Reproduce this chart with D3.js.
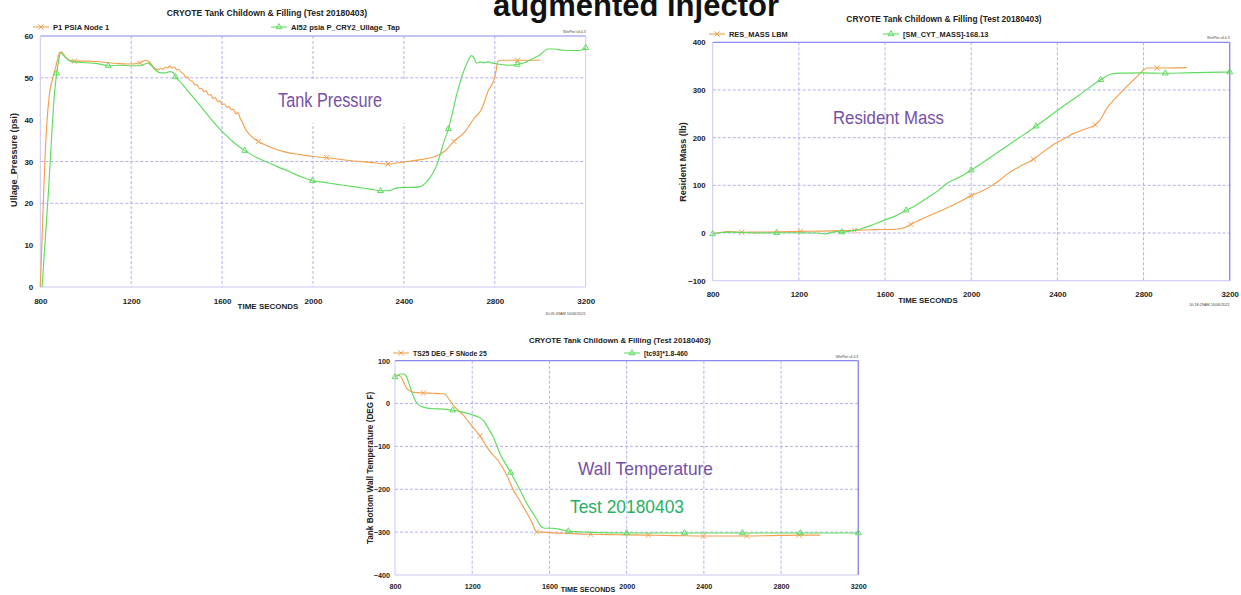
<!DOCTYPE html>
<html>
<head>
<meta charset="utf-8">
<script src="https://cdn.jsdelivr.net/npm/d3@7"></script>
<style>
  html, body { margin: 0; padding: 0; background: #fff; }
  svg { display: block; }
  text { font-family: "Liberation Sans", Arial, sans-serif; }
</style>
</head>
<body>
<svg id="chart" width="1241" height="595"></svg>
<script>
// ---------------- DATA ----------------
const timeTicks = [800, 1200, 1600, 2000, 2400, 2800, 3200];
const chartTitle = "CRYOTE Tank Childown & Filling (Test 20180403)";

// Chart 1 : Tank pressure
const pressureTicks = [0, 10, 20, 30, 40, 50, 60];
const pressureGrid = [20, 30, 50];
const p1PsiaNode1 = [
  [800,0],[810,15],[820,30],[830,40],[840,46],[855,50],[870,53],[885,56],[892,56.2],[910,55],[930,54.2],
  [950,54],[1000,54],[1050,53.9],[1100,53.6],[1150,53.4],[1200,53.3],[1230,53.5],[1250,53.9],[1265,54.2],
  [1280,53.8],[1300,52.5],[1310,52.1],[1320,51.9],[1330,52.3],[1340,52.0],[1350,52.6],[1360,52.3],[1370,52.8],
  [1380,52.3],[1390,52.6],[1400,51.9],[1410,52.0],[1420,51.3],[1430,51.0],[1440,50.1],[1450,50.2],[1460,49.3],
  [1470,49.2],[1480,48.3],[1490,48.4],[1500,47.4],[1510,47.5],[1520,46.7],[1530,46.9],[1540,45.9],[1550,46.0],
  [1560,45.1],[1570,45.3],[1580,44.3],[1590,44.5],[1600,43.6],[1610,43.8],[1620,43.0],[1630,43.1],[1640,42.4],
  [1650,42.5],[1660,41.4],[1670,41.7],[1680,40.3],[1690,39.3],[1700,38.0],[1720,36.5],[1740,35.5],[1760,34.8],
  [1800,33.7],[1850,32.7],[1900,32.0],[1950,31.6],[2000,31.2],[2060,30.9],[2150,30.3],[2250,29.8],[2330,29.4],
  [2400,29.9],[2480,30.5],[2550,31.5],[2580,32.5],[2620,34.8],[2670,37.2],[2710,40.4],[2740,42.3],[2772,47],
  [2796,49.5],[2805,51.5],[2813,53.9],[2830,54.2],[2900,54.2],[3000,54.2]
];
const p1PsiaMarkers = [[950,54],[1240,53.5],[1760,34.8],[2060,30.9],[2330,29.4],[2620,34.8],[2900,54.2]];
const ai52Ullage = [
  [808,0],[820,10],[835,22],[850,36],[862,46],[872,51.1],[882,54.5],[890,56],[905,55.2],[925,54.2],[945,53.8],
  [1000,53.6],[1050,53.4],[1099,52.9],[1150,53],[1200,52.9],[1240,52.9],[1260,53.3],[1275,53.5],[1290,52.8],
  [1310,51.7],[1330,51.2],[1350,51.2],[1370,51.5],[1385,51.2],[1395,50.2],[1420,48.8],[1450,46.8],[1500,43.6],
  [1550,40.2],[1600,37.2],[1650,34.6],[1700,32.6],[1750,31],[1800,29.8],[1850,28.6],[1900,27.5],[1950,26.3],
  [1998,25.4],[2050,25],[2100,24.6],[2150,24.2],[2200,23.8],[2250,23.4],[2297,23.0],[2330,23.0],[2350,23.3],
  [2370,23.7],[2400,23.8],[2440,23.8],[2469,24.0],[2490,24.6],[2510,25.8],[2527,27.2],[2545,29.2],[2557,31.2],
  [2575,34.5],[2596,37.8],[2615,42],[2630,45.5],[2645,48.5],[2660,51.1],[2680,53.8],[2697,55.3],[2710,54.6],
  [2719,53.5],[2735,53.8],[2750,53.6],[2770,53.8],[2800,53.4],[2830,53.2],[2860,53.0],[2899,53.2],[2930,53.6],
  [2960,54.4],[3000,55.5],[3033,56.9],[3060,56.9],[3100,56.6],[3150,56.5],[3180,56.6],[3200,57.2]
];
const ai52Markers = [[872,51.1],[1099,52.9],[1395,50.2],[1700,32.6],[1998,25.4],[2297,23.0],[2596,37.8],[2899,53.2],[3200,57.2]];

// Chart 2 : Resident mass
const massTicks = [-100, 0, 100, 200, 300, 400];
const massGrid = [0, 100, 200, 300];
const resMassLbm = [
  [800,-1],[830,1],[870,3],[900,2.5],[935,1.5],[1000,2],[1100,2.5],[1207,3.5],[1300,4],[1400,5],[1458,5.7],
  [1550,7],[1639,7.8],[1670,9],[1700,13],[1720,18.3],[1760,27],[1800,35],[1850,45],[1900,55],[1949,66],
  [2000,78.4],[2050,88],[2088,97.3],[2130,110],[2165,123],[2220,138],[2289,154.8],[2340,172],[2392,188.4],
  [2440,200],[2477,209],[2530,218],[2575,226.9],[2600,238],[2630,262],[2660,278],[2692,293.5],[2738,314.5],
  [2770,328],[2793,338.9],[2816,346],[2863,346],[2950,346.5],[3000,347]
];
const resMassMarkers = [[935,1.5],[1207,3.5],[1458,5.7],[1720,18.3],[2000,78.4],[2289,154.8],[2575,226.9],[2863,346]];
const smCytMass = [
  [800,-2],[840,1],[880,2],[950,1],[1000,0],[1097,0.6],[1200,0.5],[1280,0],[1320,-2],[1350,1],[1370,3],[1399,2],
  [1450,5],[1490,9],[1530,15],[1597,27],[1650,36],[1698,47.7],[1750,60],[1800,75],[1850,90],[1887,104],[1949,118],
  [2000,131.7],[2100,162],[2200,193],[2301,224],[2400,257],[2500,289],[2601,321.4],[2646,333],[2700,335.5],
  [2800,336],[2901,335],[3000,336],[3100,337],[3200,337.6]
];
const smCytMarkers = [[800,-2],[1097,0.6],[1399,2],[1698,47.7],[2000,131.7],[2301,224],[2601,321.4],[2901,335],[3200,337.6]];

// Chart 3 : Wall temperature
const tempTicks = [-400, -300, -200, -100, 0, 100];
const tempGrid = [-300, -200, -100, 0];
const ts25DegF = [
  [800,62],[815,66],[830,63],[845,50],[860,36],[880,29],[900,26],[947,24.7],[1000,24],[1040,23],[1059,21.7],
  [1080,10],[1102,-4],[1130,-17],[1154,-27],[1180,-42],[1200,-53],[1220,-64],[1240,-75.5],[1260,-90],[1275,-101],
  [1309,-120],[1340,-137],[1379,-167],[1413,-202],[1440,-222],[1465,-241],[1494,-264],[1515,-283],[1526,-295],
  [1534,-299],[1600,-301],[1700,-303],[1814,-305],[1950,-306],[2112,-307],[2250,-308],[2397,-309],[2500,-309],
  [2622,-309],[2750,-308],[2893,-307],[3002,-307]
];
const ts25Markers = [[947,24.7],[1240,-75.5],[1534,-299],[1814,-305],[2112,-307],[2397,-309],[2622,-309],[2893,-307]];
const tc93DegF = [
  [800,62],[815,66],[830,69],[845,69],[858,64],[870,50],[885,30],[900,12],[920,-2],[950,-9],[1000,-12],[1050,-13],
  [1099,-15.6],[1150,-20],[1200,-26],[1230,-31],[1258,-39],[1280,-55],[1309,-78],[1344,-117],[1399,-161],
  [1439,-194],[1483,-233],[1526,-264],[1560,-288],[1580,-291],[1620,-291],[1660,-294],[1698,-297.7],[1800,-300],
  [2000,-302],[2300,-302],[2600,-302],[2900,-302],[3200,-302]
];
const tc93Markers = [[800,62],[1099,-15.6],[1399,-161],[1698,-297.7],[2000,-302],[2300,-302],[2600,-302],[2900,-302],[3200,-302]];

// ---------------- STYLE / LAYOUT ----------------
const ORANGE = "#f2a04e", GREEN = "#5fdc5f";
const GRID = "#aaa7ee", FRAME = "#8c88ee", FRAME_LIGHT = "#c9c7f2";
const PURPLE = "#7650a6", TEXTGREEN = "#27b062";

const svg = d3.select("#chart");

svg.append("text").attr("x", 636).attr("y", 16).attr("text-anchor", "middle")
  .attr("font-size", 31).attr("font-weight", "bold").attr("fill", "#111").text("augmented injector");

function drawChart(cfg) {
  const g = svg.append("g");
  const x = d3.scaleLinear().domain([800, 3200]).range([cfg.x0, cfg.x1]);
  const y = d3.scaleLinear().domain(cfg.yDomain).range([cfg.yBot, cfg.yTop]);

  // grid
  g.selectAll(".vg").data(timeTicks.slice(1, -1)).join("line")
    .attr("x1", d => x(d)).attr("x2", d => x(d)).attr("y1", cfg.yTop).attr("y2", cfg.yBot)
    .attr("stroke", GRID).attr("stroke-width", 0.9).attr("stroke-dasharray", "3,2");
  g.selectAll(".hg").data(cfg.grid).join("line")
    .attr("x1", cfg.x0).attr("x2", cfg.x1).attr("y1", d => y(d)).attr("y2", d => y(d))
    .attr("stroke", GRID).attr("stroke-width", 0.9).attr("stroke-dasharray", "3,2");

  // frame
  g.append("line").attr("x1", cfg.x0).attr("x2", cfg.x1).attr("y1", cfg.yTop).attr("y2", cfg.yTop)
    .attr("stroke", FRAME).attr("stroke-width", 1.2);
  g.append("line").attr("x1", cfg.x1).attr("x2", cfg.x1).attr("y1", cfg.yTop).attr("y2", cfg.yBot)
    .attr("stroke", cfg.rightStrong ? FRAME : FRAME_LIGHT).attr("stroke-width", cfg.rightStrong ? 1.4 : 1);
  g.append("line").attr("x1", cfg.x0).attr("x2", cfg.x0).attr("y1", cfg.yTop).attr("y2", cfg.yBot)
    .attr("stroke", FRAME_LIGHT).attr("stroke-width", 1);
  g.append("line").attr("x1", cfg.x0).attr("x2", cfg.x1).attr("y1", cfg.yBot).attr("y2", cfg.yBot)
    .attr("stroke", FRAME_LIGHT).attr("stroke-width", 1);

  // annotation boxes (white, behind lines)
  (cfg.boxes || []).forEach(b => {
    g.append("rect").attr("x", b.x).attr("y", b.y).attr("width", b.w).attr("height", b.h).attr("fill", "#fff");
  });

  // axes
  const xAxis = d3.axisBottom(x).tickValues(timeTicks).tickSize(0).tickPadding(0).tickFormat(d3.format("d"));
  const xa = g.append("g").attr("transform", `translate(0,${cfg.yBot + cfg.xLabelGap})`).call(xAxis);
  const yAxis = d3.axisLeft(y).tickValues(cfg.yTicks).tickSize(0).tickPadding(cfg.yLabelGap).tickFormat(d3.format("d"));
  const ya = g.append("g").attr("transform", `translate(${cfg.x0},0)`).call(yAxis);
  [xa, ya].forEach(a => {
    a.select(".domain").remove();
    a.selectAll("text").attr("font-size", cfg.tickFont).attr("font-weight", "bold").attr("fill", "#222")
      .attr("font-family", "'Liberation Sans', Arial, sans-serif");
  });

  // series lines
  const line = d3.line().x(d => x(d[0])).y(d => y(d[1])).curve(d3.curveMonotoneX);
  cfg.series.forEach(s => {
    g.append("path").datum(s.data).attr("d", line).attr("fill", "none")
      .attr("stroke", s.color).attr("stroke-width", 1.15);
    drawMarkers(g, s.markers.map(d => [x(d[0]), y(d[1])]), s.kind, s.color);
  });

  // titles
  g.append("text").attr("x", cfg.titleX).attr("y", cfg.titleY).attr("text-anchor", "middle")
    .attr("font-size", cfg.titleFont).attr("font-weight", "bold").attr("fill", "#222").text(chartTitle);
  g.append("text").attr("x", cfg.xTitleX).attr("y", cfg.xTitleY).attr("text-anchor", "middle")
    .attr("font-size", cfg.tickFont).attr("font-weight", "bold").attr("fill", "#222").text("TIME  SECONDS");
  g.append("text").attr("transform", `translate(${cfg.yTitleX},${cfg.yTitleY}) rotate(-90)`)
    .attr("text-anchor", "middle").attr("font-size", cfg.yTitleFont).attr("font-weight", "bold")
    .attr("fill", "#222").text(cfg.yTitle);

  // legend
  cfg.series.forEach(s => {
    const ly = cfg.legendY;
    g.append("line").attr("x1", s.legendX).attr("x2", s.legendX + 16).attr("y1", ly).attr("y2", ly)
      .attr("stroke", s.color).attr("stroke-width", 1.1);
    drawMarkers(g, [[s.legendX + 8, ly]], s.kind, s.color);
    g.append("text").attr("x", s.legendX + 20).attr("y", ly + 3).attr("font-size", cfg.legendFont)
      .attr("font-weight", "bold").attr("fill", "#222").text(s.name);
  });

  // tiny stamps
  g.append("text").attr("x", cfg.x1).attr("y", cfg.yTop - 3).attr("text-anchor", "end")
    .attr("font-size", 3.5).attr("fill", "#444").text("WinPlot v4.0.3");
  if (cfg.stamp) {
    g.append("text").attr("x", cfg.x1).attr("y", cfg.stampY).attr("text-anchor", "end")
      .attr("font-size", 3.8).attr("fill", "#444").text(cfg.stamp);
  }

  // annotations
  (cfg.notes || []).forEach(n => {
    g.append("text").attr("x", n.x).attr("y", n.y).attr("font-size", n.size)
      .attr("font-family", "Lato, 'Open Sans', sans-serif").attr("fill", n.color)
      .attr("textLength", n.w).attr("lengthAdjust", "spacingAndGlyphs").text(n.text);
  });
}

function drawMarkers(g, pts, kind, color) {
  pts.forEach(([px, py]) => {
    if (kind === "x") {
      const r = 2.6;
      g.append("path").attr("d", `M${px - r},${py - r}L${px + r},${py + r}M${px - r},${py + r}L${px + r},${py - r}`)
        .attr("stroke", color).attr("stroke-width", 1).attr("fill", "none");
    } else {
      g.append("path").attr("d", d3.symbol(d3.symbolTriangle, 15)())
        .attr("transform", `translate(${px},${py})`)
        .attr("stroke", color).attr("stroke-width", 1).attr("fill", "none");
    }
  });
}

drawChart({
  x0: 40.3, x1: 585.7, yTop: 36, yBot: 287, yDomain: [0, 60], yTicks: pressureTicks, grid: pressureGrid,
  xLabelGap: 11, yLabelGap: 7, tickFont: 8, titleFont: 8.6, titleX: 267, titleY: 16,
  xTitleX: 268, xTitleY: 309, yTitle: "Ullage_Pressure (psi)", yTitleX: 17, yTitleY: 160, yTitleFont: 9.2,
  legendY: 27, legendFont: 7.6, rightStrong: false,
  stamp: "10:05:33AM 10/06/2021", stampY: 315,
  boxes: [{x: 272, y: 80, w: 148, h: 43}],
  notes: [{text: "Tank Pressure", x: 278, y: 107, size: 20, w: 104, color: PURPLE}],
  series: [
    {name: "P1  PSIA  Node 1", data: p1PsiaNode1, markers: p1PsiaMarkers, color: ORANGE, kind: "x", legendX: 33},
    {name: "AI52  psia  P_CRY2_Ullage_Tap", data: ai52Ullage, markers: ai52Markers, color: GREEN, kind: "tri", legendX: 271}
  ]
});

drawChart({
  x0: 712.7, x1: 1229.7, yTop: 42.3, yBot: 280.7, yDomain: [-100, 400], yTicks: massTicks, grid: massGrid,
  xLabelGap: 11, yLabelGap: 7, tickFont: 7.8, titleFont: 8.4, titleX: 944, titleY: 22,
  xTitleX: 928, xTitleY: 303, yTitle: "Resident Mass (lb)", yTitleX: 686, yTitleY: 162, yTitleFont: 9,
  legendY: 34, legendFont: 7.4, rightStrong: true,
  stamp: "10:18:29AM 10/06/2021", stampY: 306,
  notes: [{text: "Resident  Mass", x: 833, y: 124, size: 19, w: 111, color: PURPLE}],
  series: [
    {name: "RES_MASS  LBM", data: resMassLbm, markers: resMassMarkers, color: ORANGE, kind: "x", legendX: 709},
    {name: "[SM_CYT_MASS]-168.13", data: smCytMass, markers: smCytMarkers, color: GREEN, kind: "tri", legendX: 883}
  ]
});

drawChart({
  x0: 395, x1: 858.3, yTop: 360.7, yBot: 575, yDomain: [-400, 100], yTicks: tempTicks, grid: tempGrid,
  xLabelGap: 9, yLabelGap: 5, tickFont: 7.2, titleFont: 7.8, titleX: 620, titleY: 343,
  xTitleX: 588, xTitleY: 592, yTitle: "Tank Bottom Wall Temperature (DEG F)", yTitleX: 373, yTitleY: 468, yTitleFont: 8.2,
  legendY: 353, legendFont: 6.8, rightStrong: true,
  stamp: null,
  notes: [
    {text: "Wall Temperature", x: 578, y: 475, size: 19, w: 135, color: PURPLE},
    {text: "Test 20180403", x: 570, y: 513, size: 19, w: 114, color: TEXTGREEN}
  ],
  series: [
    {name: "TS25  DEG_F  SNode 25", data: ts25DegF, markers: ts25Markers, color: ORANGE, kind: "x", legendX: 393},
    {name: "[tc93]*1.8-460", data: tc93DegF, markers: tc93Markers, color: GREEN, kind: "tri", legendX: 624}
  ]
});
</script>
</body>
</html>
